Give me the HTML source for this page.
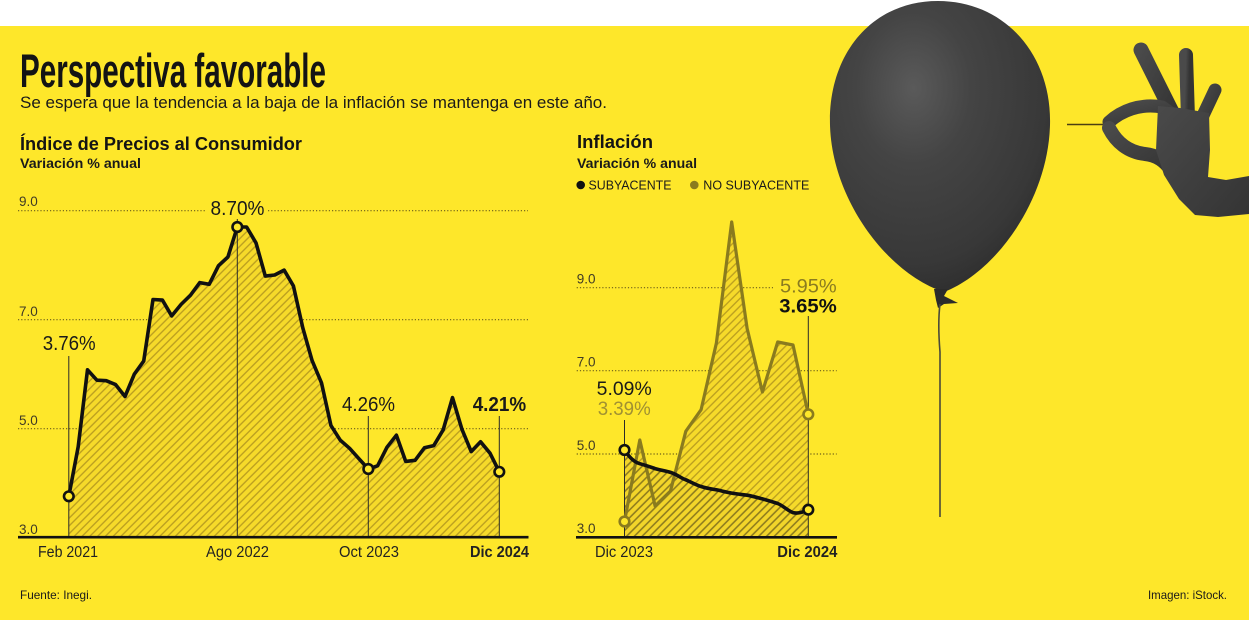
<!DOCTYPE html>
<html><head><meta charset="utf-8">
<style>
html,body{margin:0;padding:0;background:#fff;width:1249px;height:620px;overflow:hidden}
svg{display:block}
</style></head>
<body>
<svg width="1249" height="620" viewBox="0 0 1249 620" xmlns="http://www.w3.org/2000/svg" font-family="'Liberation Sans', Arial, sans-serif">
<defs>
  <pattern id="h1" patternUnits="userSpaceOnUse" width="5.5" height="5.5" patternTransform="rotate(45)">
    <rect width="5.5" height="5.5" fill="#F6DA2A"/>
    <line x1="2.75" y1="-1" x2="2.75" y2="6.5" stroke="#B89C1F" stroke-width="1.3"/>
  </pattern>
  <pattern id="h2" patternUnits="userSpaceOnUse" width="5.5" height="5.5" patternTransform="rotate(45)">
    <rect width="5.5" height="5.5" fill="#F2D52A"/>
    <line x1="2.75" y1="-1" x2="2.75" y2="6.5" stroke="#8F7D1E" stroke-width="1.6"/>
  </pattern>
  <radialGradient id="bal" cx="0.38" cy="0.3" r="0.75">
    <stop offset="0" stop-color="#5a5a5a"/>
    <stop offset="0.35" stop-color="#444"/>
    <stop offset="0.8" stop-color="#383838"/>
    <stop offset="1" stop-color="#2c2c2c"/>
  </radialGradient>
  <linearGradient id="hand" x1="0" y1="0" x2="1" y2="1">
    <stop offset="0" stop-color="#4a4a4a"/>
    <stop offset="1" stop-color="#343434"/>
  </linearGradient>
</defs>

<!-- background -->
<rect x="0" y="0" width="1249" height="620" fill="#ffffff"/>
<rect x="0" y="26" width="1249" height="594" fill="#FEE72A"/>

<!-- Header -->
<text x="20" y="87" font-size="47" font-weight="bold" fill="#141414" textLength="306" lengthAdjust="spacingAndGlyphs">Perspectiva favorable</text>
<text x="20" y="108" font-size="17" fill="#1a1a1a" textLength="587" lengthAdjust="spacingAndGlyphs">Se espera que la tendencia a la baja de la inflación se mantenga en este año.</text>

<text x="20" y="150" font-size="18" font-weight="bold" fill="#141414" textLength="282" lengthAdjust="spacingAndGlyphs">Índice de Precios al Consumidor</text>
<text x="20" y="168" font-size="14" font-weight="bold" fill="#1a1a1a" textLength="121" lengthAdjust="spacingAndGlyphs">Variación % anual</text>

<text x="577" y="148" font-size="18" font-weight="bold" fill="#141414" textLength="76" lengthAdjust="spacingAndGlyphs">Inflación</text>
<text x="577" y="168" font-size="14" font-weight="bold" fill="#1a1a1a" textLength="120" lengthAdjust="spacingAndGlyphs">Variación % anual</text>
<circle cx="580.7" cy="185" r="4.3" fill="#111"/>
<text x="588.5" y="189.5" font-size="13" fill="#1a1a1a" textLength="83" lengthAdjust="spacingAndGlyphs">SUBYACENTE</text>
<circle cx="694.3" cy="185" r="4.3" fill="#8A7B1E"/>
<text x="703.3" y="189.5" font-size="13" fill="#1a1a1a" textLength="106" lengthAdjust="spacingAndGlyphs">NO SUBYACENTE</text>

<!-- ===== Left chart ===== -->
<g stroke="#6b5e1a" stroke-width="1.2" stroke-dasharray="1.2 2" fill="none">
  <line x1="18" y1="210.7" x2="205" y2="210.7"/>
  <line x1="268" y1="210.7" x2="528" y2="210.7"/>
  <line x1="18" y1="319.7" x2="528" y2="319.7"/>
  <line x1="18" y1="428.7" x2="528" y2="428.7"/>
</g>
<g font-size="13.5" fill="#403b25">
  <text x="19" y="206">9.0</text>
  <text x="19" y="316">7.0</text>
  <text x="19" y="425">5.0</text>
  <text x="19" y="534">3.0</text>
</g>

<polygon fill="url(#h1)" points="68.8,537 68.8,496.3 78.2,446.7 87.5,369.8 96.9,380.2 106.2,380.7 115.6,384.6 125.0,396.5 134.3,374.2 143.7,361.1 153.0,299.5 162.4,300.1 171.7,315.9 181.1,304.4 190.5,295.2 199.8,282.6 209.2,284.3 218.5,265.7 227.9,257.0 237.3,227.0 246.6,227.0 256.0,242.9 265.3,276.1 274.7,275.0 284.1,270.1 293.4,285.9 302.8,327.9 312.1,360.6 321.5,382.9 330.9,425.4 340.2,440.1 349.6,448.3 358.9,458.7 368.3,469.0 377.6,465.8 387.0,447.2 396.4,435.2 405.7,461.4 415.1,460.3 424.4,447.8 433.8,445.6 443.2,429.8 452.5,397.6 461.9,429.2 471.2,451.6 480.6,441.8 490.0,453.2 499.3,471.8 499.3,537"/>

<g stroke="#2a2a2a" stroke-width="1">
  <line x1="68.8" y1="356" x2="68.8" y2="537"/>
  <line x1="237.3" y1="219" x2="237.3" y2="537"/>
  <line x1="368.3" y1="416" x2="368.3" y2="537"/>
  <line x1="499.3" y1="416" x2="499.3" y2="537"/>
</g>

<polyline fill="none" stroke="#111" stroke-width="3.6" stroke-linejoin="round" stroke-linecap="round" points="68.8,496.3 78.2,446.7 87.5,369.8 96.9,380.2 106.2,380.7 115.6,384.6 125.0,396.5 134.3,374.2 143.7,361.1 153.0,299.5 162.4,300.1 171.7,315.9 181.1,304.4 190.5,295.2 199.8,282.6 209.2,284.3 218.5,265.7 227.9,257.0 237.3,227.0 246.6,227.0 256.0,242.9 265.3,276.1 274.7,275.0 284.1,270.1 293.4,285.9 302.8,327.9 312.1,360.6 321.5,382.9 330.9,425.4 340.2,440.1 349.6,448.3 358.9,458.7 368.3,469.0 377.6,465.8 387.0,447.2 396.4,435.2 405.7,461.4 415.1,460.3 424.4,447.8 433.8,445.6 443.2,429.8 452.5,397.6 461.9,429.2 471.2,451.6 480.6,441.8 490.0,453.2 499.3,471.8"/>

<line x1="18" y1="537.2" x2="528.5" y2="537.2" stroke="#111" stroke-width="2.6"/>

<g fill="#FEE72A" stroke="#111" stroke-width="2.6">
  <circle cx="68.8" cy="496.3" r="4.8"/>
  <circle cx="237.3" cy="227" r="4.8"/>
  <circle cx="368.3" cy="469" r="4.8"/>
  <circle cx="499.3" cy="471.8" r="4.8"/>
</g>

<g font-size="20" fill="#1a1a1a">
  <text x="42.7" y="350" textLength="53" lengthAdjust="spacingAndGlyphs">3.76%</text>
  <text x="210.5" y="215" textLength="54" lengthAdjust="spacingAndGlyphs">8.70%</text>
  <text x="342" y="411" textLength="53" lengthAdjust="spacingAndGlyphs">4.26%</text>
  <text x="472.7" y="411" font-weight="bold" textLength="53.5" lengthAdjust="spacingAndGlyphs">4.21%</text>
</g>
<g font-size="15.5" fill="#222">
  <text x="38" y="557" textLength="60" lengthAdjust="spacingAndGlyphs">Feb 2021</text>
  <text x="206" y="557" textLength="63" lengthAdjust="spacingAndGlyphs">Ago 2022</text>
  <text x="339" y="557" textLength="60" lengthAdjust="spacingAndGlyphs">Oct 2023</text>
  <text x="470" y="557" font-weight="bold" textLength="59" lengthAdjust="spacingAndGlyphs">Dic 2024</text>
</g>

<!-- ===== Right chart ===== -->
<g stroke="#6b5e1a" stroke-width="1.2" stroke-dasharray="1.2 2" fill="none">
  <line x1="576.7" y1="287.7" x2="773" y2="287.7"/>
  <line x1="576.7" y1="370.7" x2="836.7" y2="370.7"/>
  <line x1="576.7" y1="454" x2="836.7" y2="454"/>
</g>
<g font-size="13.5" fill="#403b25">
  <text x="576.7" y="283.3">9.0</text>
  <text x="576.7" y="366.7">7.0</text>
  <text x="576.7" y="450">5.0</text>
  <text x="576.7" y="533">3.0</text>
</g>

<polygon fill="url(#h1)" points="624.5,537 624.5,521.5 639.8,440.0 655.1,506.0 670.5,491.0 685.8,431.3 701.1,409.7 716.4,343.0 731.7,222.0 747.1,328.4 762.4,392.0 777.7,342.0 793.0,345.0 808.3,414.3 808.3,537"/>
<polygon fill="url(#h2)" points="624.5,537 624.5,450.0 639.8,463.7 655.1,468.6 670.5,472.4 685.8,479.8 701.1,486.5 716.4,489.8 731.7,493.1 747.1,495.2 762.4,498.9 777.7,503.5 793.0,512.6 808.3,509.7 808.3,537"/>

<g stroke="#2a2a2a" stroke-width="1">
  <line x1="624.5" y1="420" x2="624.5" y2="537"/>
  <line x1="808.3" y1="316" x2="808.3" y2="537"/>
</g>

<polyline fill="none" stroke="#8A7B1E" stroke-width="3.2" stroke-linejoin="round" stroke-linecap="round" points="624.5,521.5 639.8,440.0 655.1,506.0 670.5,491.0 685.8,431.3 701.1,409.7 716.4,343.0 731.7,222.0 747.1,328.4 762.4,392.0 777.7,342.0 793.0,345.0 808.3,414.3"/>
<path fill="none" stroke="#111" stroke-width="3.6" stroke-linejoin="round" stroke-linecap="round" d="M624.5,450 C630,458 634,462 639.8,463.7 C648,466 652,467.5 655.1,468.6 C662,470.5 666,471 670.5,472.4 C677,474.5 681,478 685.8,479.8 C692,482.5 696,485 701.1,486.5 C707,488.5 711,489 716.4,489.8 C722,491 727,492.3 731.7,493.1 C737,494 742,494.5 747.1,495.2 C752,496 757,497.5 762.4,498.9 C768,500.5 773,502 777.7,503.5 C783,505.5 788,511 793,512.6 C798,514 803,512 808.3,509.7"/>

<line x1="576" y1="537.3" x2="837" y2="537.3" stroke="#111" stroke-width="2.6"/>

<g stroke-width="2.6" fill="#FEE72A">
  <circle cx="624.5" cy="521.5" r="4.8" stroke="#8A7B1E"/>
  <circle cx="808.3" cy="414.3" r="4.8" stroke="#8A7B1E"/>
  <circle cx="624.5" cy="450" r="4.8" stroke="#111"/>
  <circle cx="808.3" cy="509.7" r="4.8" stroke="#111"/>
</g>

<g font-size="19">
  <text x="596.7" y="395" fill="#1a1a1a" textLength="55" lengthAdjust="spacingAndGlyphs">5.09%</text>
  <text x="597.7" y="415" fill="#A09132" textLength="53" lengthAdjust="spacingAndGlyphs">3.39%</text>
  <text x="780" y="292.7" fill="#8A7C20" textLength="56.7" lengthAdjust="spacingAndGlyphs">5.95%</text>
  <text x="779.3" y="312.7" fill="#111" font-weight="bold" textLength="57.4" lengthAdjust="spacingAndGlyphs">3.65%</text>
</g>
<g font-size="15.5" fill="#222">
  <text x="595" y="557" textLength="58" lengthAdjust="spacingAndGlyphs">Dic 2023</text>
  <text x="777.3" y="557" font-weight="bold" textLength="60" lengthAdjust="spacingAndGlyphs">Dic 2024</text>
</g>

<!-- ===== Balloon ===== -->
<path d="M938,1 C1005,1 1052,55 1050,125 C1048,200 996,272 944,292 C888,274 832,200 830,125 C828,55 871,1 938,1 Z" fill="url(#bal)"/>
<path d="M934,289 L948,289 L944,296 L958,303 L944,304 L938,308 L936,300 Z" fill="#2b2b2b"/>
<path d="M940,304 C938,320 939,340 940,352 L940,517" fill="none" stroke="#4a4a3a" stroke-width="1.6"/>

<!-- ===== Hand with pin ===== -->
<line x1="1067" y1="124.5" x2="1110" y2="124.5" stroke="#4a3f12" stroke-width="1.5"/>
<g stroke="url(#hand)" fill="none" stroke-linecap="round" stroke-linejoin="round">
  <line x1="1141" y1="50" x2="1173" y2="114" stroke-width="15"/>
  <line x1="1186" y1="55" x2="1188" y2="118" stroke-width="14"/>
  <line x1="1215" y1="90" x2="1199" y2="124" stroke-width="13"/>
  <path d="M1109,122 C1121,111 1140,103 1162,107 L1178,118" stroke-width="13"/>
  <path d="M1109,128 C1116,142 1128,152 1145,154 C1156,155 1165,161 1171,170" stroke-width="14"/>
</g>
<path d="M1158,106 L1180,108 L1209,113 L1210,150 L1208,177 L1226,180 L1249,176 L1249,214 L1218,217 L1195,215 L1179,199 L1164,175 L1156,150 Z" fill="url(#hand)"/>

<!-- Footer -->
<text x="20" y="599" font-size="12" fill="#1a1a1a" textLength="72" lengthAdjust="spacingAndGlyphs">Fuente: Inegi.</text>
<text x="1148" y="599" font-size="12" fill="#1a1a1a" textLength="79" lengthAdjust="spacingAndGlyphs">Imagen: iStock.</text>
</svg>
</body></html>
